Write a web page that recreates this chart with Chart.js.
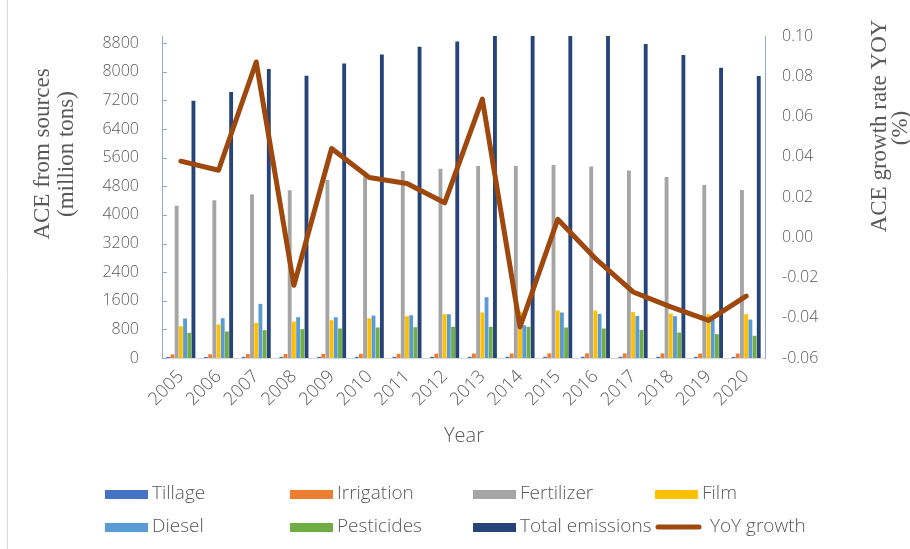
<!DOCTYPE html>
<html><head><meta charset="utf-8">
<script src="https://cdn.jsdelivr.net/npm/chart.js@4.4.1/dist/chart.umd.min.js"></script>
<style>html,body{margin:0;padding:0;background:#fff;}#wrap{position:relative;width:910px;height:549px;}</style>
</head><body><div id="wrap"><canvas id="c" width="910" height="549"></canvas></div>
<script>
const years = ['2005','2006','2007','2008','2009','2010','2011','2012','2013','2014','2015','2016','2017','2018','2019','2020'];
const tillage    = [30, 30, 32, 32, 33, 33, 34, 34, 35, 35, 35, 35, 34, 34, 33, 33];
const irrigation = [100, 105, 110, 112, 115, 118, 120, 122, 125, 128, 130, 130, 128, 128, 125, 125];
const fertilizer = [4255, 4406, 4574, 4686, 4973, 5070, 5225, 5289, 5364, 5364, 5392, 5355, 5243, 5057, 4834, 4694];
const film       = [888, 936, 983, 1020, 1057, 1112, 1168, 1224, 1271, 1300, 1327, 1327, 1281, 1243, 1224, 1224];
const diesel     = [1104, 1112, 1514, 1140, 1140, 1187, 1196, 1224, 1699, 915, 1271, 1234, 1178, 1168, 1076, 1076];
const pesticides = [704, 740, 777, 805, 824, 852, 860, 872, 872, 872, 852, 824, 787, 712, 665, 620];
const totalEmissions = [7189, 7432, 8075, 7888, 8233, 8485, 8698, 8848, 9370, 9060, 9200, 9120, 8773, 8466, 8111, 7879];
const yoyGrowth  = [0.0378, 0.0333, 0.0871, -0.0239, 0.0441, 0.0297, 0.0267, 0.0171, 0.0686, -0.0446, 0.0089, -0.0106, -0.0272, -0.0346, -0.0413, -0.0293];
const leftTicks  = [0, 800, 1600, 2400, 3200, 4000, 4800, 5600, 6400, 7200, 8000, 8800];
const rightTicks = [-0.06, -0.04, -0.02, 0.00, 0.02, 0.04, 0.06, 0.08, 0.10];

const seriesNames = ['Tillage','Irrigation','Fertilizer','Film','Diesel','Pesticides','Total emissions'];
const seriesData = [tillage, irrigation, fertilizer, film, diesel, pesticides, totalEmissions];
const seriesColors = ['#4472C4','#ED7D31','#A5A5A5','#FFC000','#5B9BD5','#70AD47','#264478'];
const lineColor = '#9E480E';
const txt = '#595959';
const sans = "'Open Sans', 'Liberation Sans', sans-serif";
const serif = "'Liberation Serif', 'Times New Roman', serif";
const axisBlue = '#8EA9DB';

const datasets = seriesNames.map((n, i) => ({
  type: 'bar', label: n, data: seriesData[i], backgroundColor: seriesColors[i],
  yAxisID: 'y', order: 1, categoryPercentage: 0.78, barPercentage: 0.92
}));
datasets.push({
  type: 'line', label: 'YoY growth', data: yoyGrowth, yAxisID: 'y1', order: 0,
  borderColor: lineColor, backgroundColor: lineColor, borderWidth: 5, pointRadius: 0,
  tension: 0, borderCapStyle: 'round', borderJoinStyle: 'round', fill: false
});

const extras = {
  id: 'extras',
  afterDraw(chart) {
    const ctx = chart.ctx;
    const ys = chart.scales.y;
    const area = chart.chartArea;
    ctx.save();
    ctx.strokeStyle = axisBlue; ctx.lineWidth = 1;
    leftTicks.forEach(v => {
      const py = Math.round(ys.getPixelForValue(v)) + 0.5;
      ctx.beginPath(); ctx.moveTo(area.left, py); ctx.lineTo(area.left + 5, py); ctx.stroke();
    });
    ctx.strokeStyle = '#d9d9d9';
    ctx.beginPath(); ctx.moveTo(7.5, 0); ctx.lineTo(7.5, 549); ctx.stroke();
    ctx.fillStyle = txt;
    ctx.font = '23px ' + serif;
    ctx.textAlign = 'center'; ctx.textBaseline = 'middle';
    const rot = (text, x, y) => { ctx.save(); ctx.translate(x, y); ctx.rotate(-Math.PI/2); ctx.fillText(text, 0, 0); ctx.restore(); };
    rot('ACE from sources', 43, 154);
    rot('(million tons)', 67, 154);
    rot('ACE growth rate YOY', 880, 126);
    rot('(%)', 901, 128);
    ctx.font = '300 20px ' + sans;
    ctx.fillText('Year', 464, 436);
    const cols = [105, 290, 473, 655];
    const rows = [494, 527];
    ctx.font = '300 19px ' + sans;
    ctx.textAlign = 'left';
    const items = seriesNames.map((n, i) => ({name: n, color: seriesColors[i], line: false}));
    items.push({name: ' YoY growth', color: lineColor, line: true});
    items.forEach((it, i) => {
      const x = cols[i % 4], y = rows[Math.floor(i / 4)];
      if (it.line) {
        ctx.strokeStyle = it.color; ctx.lineWidth = 5; ctx.lineCap = 'round';
        ctx.beginPath(); ctx.moveTo(x + 3, y); ctx.lineTo(x + 44, y); ctx.stroke();
        ctx.fillStyle = txt; ctx.fillText(it.name, x + 50, y);
      } else {
        ctx.fillStyle = it.color; ctx.fillRect(x, y - 4, 43, 9);
        ctx.fillStyle = txt; ctx.fillText(it.name, x + 47, y);
      }
    });
    ctx.restore();
  }
};

const tickFont = { family: sans, size: 16, weight: '300' };

new Chart(document.getElementById('c'), {
  data: { labels: years, datasets },
  options: {
    responsive: false, animation: false, devicePixelRatio: 1,
    layout: { padding: { top: 36, left: 0, right: 0, bottom: 0 } },
    plugins: { legend: { display: false }, tooltip: { enabled: false } },
    scales: {
      x: {
        grid: { display: false, drawTicks: false },
        border: { display: true, color: '#d9d9d9' },
        ticks: { color: txt, font: { family: sans, size: 18, weight: '300' }, minRotation: 45, maxRotation: 45, padding: 8, autoSkip: false },
        afterFit(s) { s.height = 191; }
      },
      y: {
        position: 'left', min: 0, max: 9000,
        afterBuildTicks(s) { s.ticks = leftTicks.map(v => ({ value: v })); },
        grid: { display: false, drawTicks: false },
        border: { display: true, color: axisBlue },
        ticks: { color: txt, font: tickFont, padding: 23, callback: v => String(v) },
        afterFit(s) { s.width = 162; }
      },
      y1: {
        position: 'right', min: -0.06, max: 0.10,
        afterBuildTicks(s) { s.ticks = rightTicks.map(v => ({ value: v })); },
        grid: { display: false, drawTicks: false },
        border: { display: true, color: axisBlue },
        ticks: { color: txt, font: tickFont, padding: 17, callback: v => Number(v).toFixed(2) },
        afterFit(s) { s.width = 145; }
      }
    }
  },
  plugins: [extras]
});
</script></body></html>
